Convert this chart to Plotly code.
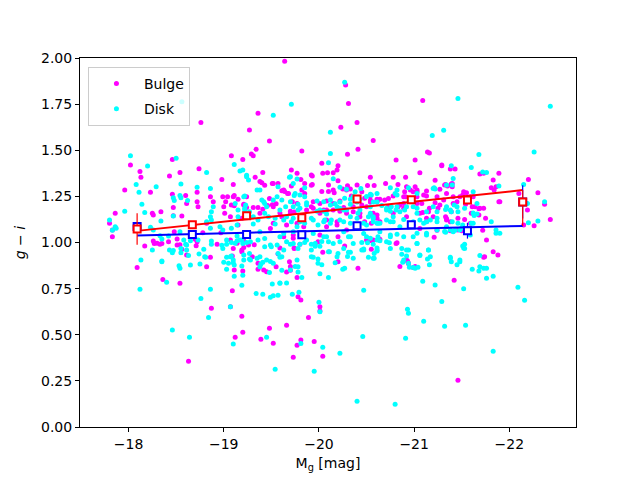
import plotly.graph_objects as go

bulge_mag = [-19.36,-18.76,-19.27,-19.48,-19.34,-19.29,-19.31,-19.08,-19.20,-18.46,-18.02,-18.74,-18.12,-18.54,-18.13,-18.43,-19.33,-19.41,-18.98,-19.52,-19.40,-19.10,-17.96,-18.23,-18.46,-18.60,-18.72,-18.86,-18.99,-19.04,-19.02,-19.10,-19.24,-19.48,-18.72,-18.89,-19.00,-19.11,-19.21,-19.31,-17.86,-18.25,-18.34,-18.47,-18.56,-17.80,-19.38,-19.52,-19.49,
    -18.73,-19.11,-19.15,-19.08,-19.24,-18.26,-18.47,-18.48,-18.26,-18.33,-18.17,-18.30,-18.42,-18.51,-18.54,-18.70,-18.71,-18.78,-18.97,-19.07,-19.14,-19.21,-19.10,-19.21,-17.83,-18.09,-18.56,-18.82,-19.01,-19.07,-19.19,-19.15,-18.61,-18.82,-18.65,-17.83,
    -18.27,-18.35,-18.51,-18.61,-18.72,-18.93,-18.86,-18.36,-18.54,-19.09,-19.19,-19.11,-19.20,-19.32,-19.30,-19.36,-19.36,-19.42,-19.45,-19.55,-19.57,-19.09,-18.87,-19.07,-19.19,-19.20,-19.12,-19.48,-19.39,-19.52,-18.63,
    -19.64,-20.28,-20.31,-20.40,-20.23,-21.09,-20.57,-20.41,-19.82,-20.30,-21.14,-21.16,-20.81,-21.01,-20.03,-20.20,-20.19,-19.71,-19.77,-21.29,-21.38,-21.43,-20.04,-20.09,-20.15,-19.93,-19.85,-20.54,-20.78,-20.91,-21.06,-21.22,-20.20,-19.71,-19.93,-20.10,-20.30,-20.40,-20.51,-20.58,-20.70,-20.83,-20.92,-21.01,-21.03,-21.13,-21.33,-21.40,-21.40,-21.52,-19.63,-19.67,-19.82,-19.85,-20.03,-20.10,-20.15,-20.29,-20.34,-20.45,-20.54,-20.61,-20.64,-20.69,-20.78,-20.91,-20.99,-21.03,-21.13,-21.24,-21.34,-21.41,-21.48,-21.59,-21.64,-19.72,-19.77,-19.94,-20.01,-20.08,-20.15,-20.22,-20.45,-20.50,-20.73,-20.83,-20.89,-20.97,-21.03,-21.09,-21.16,-21.27,-21.41,-21.60,-21.68,-19.94,-20.05,-20.15,-20.29,-20.36,-20.43,-20.61,-20.78,-20.92,-21.13,-21.20,-21.34,-21.46,-19.61,-19.70,-20.48,-20.55,-19.77,-19.84,-20.08,-20.19,-20.96,-21.06,-21.24,-19.63,-19.73,
    -19.38,-19.43,-19.51,-19.57,-19.61,-19.64,-19.68,-19.81,-19.92,-19.92,-20.16,-20.25,-20.33,-20.48,-20.54,-19.21,-19.36,-19.41,-19.46,-19.51,-19.55,-19.59,-19.70,-19.74,-19.87,-19.92,-20.01,-20.08,-20.22,-20.26,-20.36,-20.43,-19.19,-19.26,-19.74,-20.01,-19.99,-20.20,-20.50,-20.55,-20.41,-20.08,-20.19,-19.52,-19.66,-20.55,-20.61,-20.29,-19.73,
    -19.59,-19.74,-19.80,-19.96,-19.69,-19.70,-19.70,-19.66,-19.77,-19.78,-19.81,-20.01,-20.01,-19.89,-19.66,-19.81,-19.77,-19.95,-19.73,-20.04,-20.27,-20.20,-20.04,-20.81,-20.93,-20.94,-21.42,-21.46,-20.55,
    -21.29,-20.96,-21.03,-21.10,-20.90,-20.89,-21.32,-21.39,-21.51,-21.69,-21.73,-21.83,-21.86,-21.90,-21.45,-21.08,-21.22,-20.54,-20.61,-20.73,-20.85,-20.89,-21.06,-21.15,-21.25,-21.39,-21.69,-21.73,-20.57,-20.64,-20.99,-21.13,-21.38,-21.46,-20.57,-20.64,-20.82,-21.21,-21.59,-21.76,-21.74,-21.83,-21.88,-20.92,-20.94,-20.85,-20.99,-21.01,-21.34,
    -21.89,-22.20,-21.35,-21.27,-21.81,-21.84,-21.55,-21.62,-21.31,-21.54,-21.61,-21.68,-21.89,-22.10,-22.30,-22.37,-22.19,-21.33,-21.53,-21.75,-22.43,-21.38,-21.50,-22.15,-22.26,-21.72,-21.73]
bulge_gi = [1.70,1.65,1.61,1.55,1.505,1.48,1.47,1.47,1.45,1.45,1.42,1.40,1.385,1.38,1.353,1.36,1.353,1.38,1.342,1.32,1.324,1.315,1.284,1.272,1.261,1.255,1.272,1.248,1.248,1.248,1.221,1.248,1.248,1.239,1.221,1.221,1.194,1.199,1.207,1.190,1.158,1.158,1.167,1.145,1.143,1.104,1.158,1.194,1.076,
    1.194,1.255,1.234,1.203,1.19,1.149,1.190,1.058,1.008,0.99,0.981,0.996,1.004,1.019,0.988,1.017,0.983,1.053,1.053,1.013,0.996,1.010,0.968,0.973,1.031,0.865,0.963,0.869,1.158,1.140,1.131,1.095,1.212,1.104,1.031,1.068,
    0.995,0.995,0.986,0.932,1.004,0.990,0.920,0.800,0.779,0.927,0.950,0.851,0.846,0.988,0.923,0.887,0.855,0.851,0.842,0.869,0.938,0.739,0.643,0.652,0.600,0.513,0.486,0.535,0.475,0.454,0.356,
    1.983,1.853,1.754,1.651,1.624,1.770,1.553,1.505,1.496,1.478,1.490,1.485,1.447,1.447,1.429,1.416,1.393,1.393,1.375,1.416,1.398,1.398,1.375,1.378,1.378,1.360,1.320,1.353,1.353,1.353,1.378,1.337,1.335,1.306,1.315,1.311,1.308,1.311,1.309,1.309,1.320,1.315,1.302,1.302,1.284,1.279,1.315,1.320,1.302,1.275,1.284,1.266,1.284,1.266,1.276,1.276,1.284,1.284,1.252,1.275,1.253,1.234,1.234,1.230,1.252,1.248,1.275,1.248,1.252,1.248,1.266,1.248,1.248,1.248,1.194,1.221,1.212,1.221,1.212,1.225,1.212,1.225,1.203,1.194,1.194,1.194,1.212,1.221,1.212,1.163,1.185,1.203,1.212,1.158,1.149,1.185,1.176,1.176,1.158,1.167,1.140,1.149,1.158,1.140,1.131,1.140,1.122,1.131,1.140,1.158,1.113,1.104,1.104,1.085,1.085,1.095,1.104,1.076,1.067,1.031,1.040,
    1.33,1.31,1.32,1.32,1.28,1.276,1.266,1.342,1.31,1.366,1.27,1.29,1.29,1.24,1.22,1.203,1.19,1.18,1.20,1.205,1.21,1.16,1.17,1.165,1.176,1.194,1.158,1.176,1.17,1.19,1.194,1.158,0.959,0.986,0.968,1.04,1.004,1.031,1.013,0.963,0.86,1.122,1.113,1.104,1.095,1.149,1.131,1.068,1.023,
    0.97,0.97,0.99,0.99,0.896,0.87,0.85,0.84,0.81,0.706,0.689,0.652,0.629,0.594,0.551,0.472,0.443,0.464,0.378,0.383,0.981,0.896,0.947,0.995,0.90,0.887,0.795,0.253,1.01,
    1.42,1.285,1.275,1.257,1.275,1.248,1.311,1.317,1.257,1.371,1.375,1.339,1.302,1.221,1.221,1.212,1.216,1.23,1.221,1.239,1.203,1.185,1.158,1.167,1.185,1.167,1.185,1.185,1.158,1.113,1.095,1.113,1.113,1.068,1.013,1.017,0.999,1.028,1.104,1.013,0.923,0.95,0.932,0.905,0.887,0.87,0.865,0.87,1.13,
    1.375,1.342,1.306,1.288,1.297,1.284,1.270,1.248,1.230,1.207,1.194,1.183,1.221,1.266,1.270,1.207,1.176,1.140,1.125,1.131,1.125,1.064,1.064,1.095,1.091,1.067,0.92]

disk_mag = [-19.52,-18.02,-18.50,-18.20,-19.11,-19.20,-19.17,-18.82,-19.24,-18.08,-18.72,-18.29,-18.11,-18.54,-19.21,-19.38,-19.57,-18.14,-18.89,-19.22,-19.42,-19.45,-18.17,-18.47,-17.96,-17.80,-17.83,-17.86,-18.23,-18.96,-19.14,-19.31,-19.54,-19.38,-18.56,
    -18.55,-18.86,-18.48,-18.34,-17.87,-18.26,-18.33,-18.42,-18.54,-18.58,-18.43,-18.47,-18.55,-18.55,-18.13,-18.35,-18.53,-18.65,-18.75,-18.61,-18.61,-18.79,-18.80,-18.73,-18.87,-18.86,-18.82,-18.87,-18.87,-18.86,-18.99,-19.08,-19.03,-19.12,-19.19,-19.14,-18.99,-19.03,-19.11,-19.21,-19.07,-19.15,-19.22,-19.23,-19.12,-19.15,-19.24,-19.26,-18.47,-18.55,-18.62,-18.35,
    -18.25,-18.35,-18.12,-18.40,-18.54,-18.46,-18.60,-18.65,-18.63,-18.74,-18.81,-18.86,-18.76,-18.84,-18.87,-18.98,-19.03,-19.08,-19.14,-19.20,-19.24,-19.00,-19.05,-19.10,-19.10,-19.08,-19.03,-19.19,-19.20,-19.11,-19.19,-19.27,-19.27,-19.35,-19.41,-19.39,-19.49,-19.43,-19.50,-19.56,-19.48,-19.51,-19.59,-19.34,-19.41,-19.49,-19.52,-19.57,-19.07,-18.46,-18.64,-19.10,-19.45,-19.54,
    -19.59,-19.61,-19.59,-19.66,-19.72,-19.79,-19.75,-19.78,-19.82,-19.70,-19.80,-19.85,-19.92,-19.96,-20.01,-20.03,-19.94,-19.99,-20.03,-19.99,-20.11,-20.20,-20.17,-20.25,-20.27,-20.31,-20.33,-20.30,-20.10,-20.01,-20.45,-20.47,-20.51,-20.61,-20.58,-20.64,-20.74,-20.47,-20.00,-20.01,-20.87,-20.92,-20.94,-20.95,-20.88,-21.03,-21.01,-21.04,-21.06,-21.15,-21.14,-21.16,-21.09,-21.22,-21.29,-21.38,-21.45,-21.48,-21.52,-21.53,-21.61,-21.68,-21.52,-20.93,-20.94,-21.10,-21.32,-21.54,-20.91,-20.46,-19.81,-20.04,-20.22,-19.95,-20.40,-20.80,
    -21.53,-21.69,-21.73,-21.76,-21.83,-22.09,-22.16,-21.83,
    -20.27,-19.71,-21.46,-20.12,-21.31,-21.19,-20.12,-21.68,-20.10,-21.39,-21.60,-19.69,-19.77,-20.15,-19.85,-19.74,-20.22,-20.29,-20.38,-20.44,-20.75,-20.82,-20.94,-21.21,-21.41,-19.61,-19.65,-19.80,-19.85,-19.87,-19.80,-19.98,-20.05,-20.12,-20.19,-20.26,-20.43,-20.33,-20.54,-20.57,-20.71,-20.78,-20.82,-20.92,-21.03,-21.20,-21.24,-21.34,-21.38,-21.45,-21.53,-21.66,-19.59,-19.66,-19.73,-19.80,-19.94,-20.05,-20.12,-20.22,-20.33,-20.40,-20.50,-20.64,-20.75,-20.85,-20.99,-21.13,-21.24,-21.34,-21.50,-21.62,-19.63,-19.73,-19.94,-20.08,-20.26,-20.33,-20.47,-20.64,-20.75,-20.99,-21.13,-21.41,-21.59,
    -19.35,-19.40,-19.43,-19.52,-19.56,-19.70,-19.73,-19.75,-19.87,-19.78,-19.78,-19.70,-19.73,-19.98,-20.05,-20.12,-20.17,-20.01,-20.08,-20.22,-20.27,-20.33,-20.36,-20.40,-20.43,-20.50,-20.54,-20.57,-20.61,-20.22,-20.29,-19.22,-19.27,-19.31,-19.36,-19.43,-19.47,-19.54,-19.63,-19.71,-19.77,-19.85,-19.92,-19.99,-20.06,-20.13,-20.26,-20.33,-20.41,-20.47,-20.52,-20.57,-20.62,-19.17,-19.28,-19.36,-19.43,-19.49,-19.59,-19.66,-19.63,-19.73,-19.78,-19.87,-19.96,-19.92,-20.05,-20.10,-20.15,-20.22,-20.26,-20.31,-20.36,-20.45,-20.50,-20.57,-20.61,-19.21,-19.28,-19.38,-19.45,-19.52,-19.57,-19.61,-19.77,-19.78,-19.92,-20.10,-20.19,-20.36,-20.47,-20.52,-20.58,-20.61,-19.70,-19.38,
    -21.76,-20.80,-20.82,-21.03,-21.20,-21.22,-21.34,-21.40,-21.62,-20.55,-20.61,-20.66,-20.71,-20.75,-20.76,-20.81,-20.85,-20.90,-20.99,-21.03,-21.13,-21.17,-21.24,-21.39,-21.06,-21.10,-20.54,-20.57,-20.61,-20.71,-20.78,-20.89,-21.46,-21.62,-21.66,-21.46,-21.51,-21.81,-21.86,-21.90,-21.48,-21.55,-21.03,-21.13,-21.24,-20.75,-20.82,-20.89,-20.54,-20.62,-21.38,-21.32,-20.61,-20.57,-20.71,-20.75,-20.87,-20.92,-21.03,-21.15,-21.17,-21.06,-21.38,-21.39,-21.48,-21.51,-20.89,-20.94,-20.99,-21.69,-21.76,-21.86,
    -22.43,-22.26,-21.72,-21.89,-22.15,-22.19,-22.37,-21.42,-21.33,-21.63,-21.40,-21.60,-22.20,-22.30,-21.33,-21.43]
disk_gi = [1.69,1.47,1.456,1.414,1.423,1.393,1.387,1.38,1.364,1.315,1.299,1.302,1.272,1.255,1.248,1.284,1.302,1.207,1.194,1.185,1.221,1.194,1.163,1.143,1.169,1.122,1.067,1.085,1.082,1.085,1.095,1.10,1.10,1.058,1.763,
    1.317,1.293,1.227,1.116,1.077,1.068,1.037,1.035,1.058,1.013,0.959,0.956,0.968,0.945,0.905,0.900,0.874,0.878,0.883,0.96,0.987,0.963,0.923,1.013,1.008,1.077,1.113,1.122,1.167,1.14,1.068,1.077,1.013,0.996,1.013,1.035,0.968,0.92,0.878,0.905,0.923,1.176,1.252,1.203,1.212,1.14,1.357,1.339,1.243,1.243,1.227,1.019,
    0.959,0.896,0.746,0.784,0.860,0.945,0.990,1.01,0.930,0.938,0.920,0.746,0.697,0.594,0.99,0.985,0.99,1.0,1.01,0.995,1.0,0.893,0.888,0.89,0.905,0.927,0.855,0.873,0.822,0.817,0.768,0.94,0.91,0.914,0.893,0.883,0.897,0.977,0.977,0.986,0.837,0.775,0.779,0.724,0.719,0.703,0.712,0.714,0.652,0.526,0.486,0.450,0.486,0.313,
    0.92,0.85,0.78,0.78,0.72,0.73,0.87,0.84,0.81,0.99,0.99,1.0,0.99,0.98,0.98,1.005,0.92,0.91,0.88,0.888,0.95,0.94,0.89,0.855,0.86,0.947,0.947,0.924,0.81,0.83,0.96,0.965,0.999,0.954,0.914,1.01,0.999,0.741,0.676,0.625,0.936,0.927,0.96,0.866,0.893,0.995,0.86,0.866,0.93,0.96,0.91,0.88,0.79,0.77,0.68,0.92,0.88,0.895,0.97,0.99,0.855,0.845,0.75,0.638,0.617,0.573,0.546,0.551,0.481,0.491,0.453,0.432,0.400,0.302,0.139,0.123,
    0.968,0.93,0.86,0.806,0.817,0.757,0.687,0.410,
    1.868,1.750,1.781,1.597,1.608,1.580,1.483,1.477,1.432,1.416,1.407,1.353,1.344,1.346,1.297,1.255,1.299,1.288,1.275,1.293,1.297,1.284,1.297,1.297,1.347,1.230,1.194,1.257,1.248,1.203,1.185,1.17,1.17,1.203,1.194,1.176,1.176,1.207,1.194,1.140,1.176,1.14,1.194,1.194,1.185,1.194,1.167,1.194,1.176,1.194,1.185,1.212,1.176,1.140,1.131,1.113,1.122,1.113,1.104,1.122,1.104,1.131,1.095,1.104,1.113,1.085,1.113,1.113,1.131,1.085,1.080,1.104,1.049,1.058,1.049,1.031,1.058,1.031,1.049,1.058,1.040,1.031,1.040,1.058,1.040,
    1.284,1.23,1.212,1.23,1.248,1.357,1.32,1.266,1.216,1.207,1.176,1.221,1.194,1.225,1.221,1.23,1.21,1.176,1.154,1.22,1.24,1.235,1.25,1.22,1.235,1.25,1.262,1.22,1.266,1.185,1.176,1.176,1.167,1.14,1.122,1.158,1.14,1.131,1.122,1.113,1.085,1.104,1.131,1.095,1.122,1.122,1.113,1.140,1.158,1.104,1.140,1.113,1.104,1.013,1.004,1.013,1.022,0.986,1.031,1.004,0.959,0.995,0.968,1.013,0.995,0.959,1.031,1.004,0.995,1.004,0.968,1.031,0.995,1.0,1.031,0.99,1.013,0.932,0.905,0.923,0.905,0.887,0.941,0.923,0.905,0.869,0.923,0.95,0.923,0.914,0.959,0.92,0.94,0.97,0.851,0.869,
    1.38,1.266,1.257,1.266,1.293,1.29,1.311,1.311,1.275,1.257,1.22,1.20,1.185,1.17,1.194,1.176,1.167,1.176,1.194,1.158,1.167,1.122,1.113,1.167,1.122,1.104,1.158,1.13,1.104,1.122,1.113,1.125,1.167,1.16,1.155,1.104,1.095,1.113,1.05,1.05,1.068,1.068,1.05,1.05,1.068,1.031,1.045,1.031,1.023,1.031,1.068,1.06,0.959,0.914,1.004,0.968,0.968,0.959,0.995,0.959,0.923,0.932,0.914,0.896,0.905,0.981,0.905,0.887,0.865,0.869,0.86,1.068,
    1.739,1.490,1.382,1.306,1.315,1.212,1.221,1.203,1.179,1.147,1.113,1.104,1.107,1.116,1.055,1.067]

bin_mag = [-18.09, -18.67, -19.24, -19.82, -20.40, -20.97, -21.56, -22.14]
bulge_mean = [1.073, 1.096, 1.145, 1.134, 1.236, 1.232, 1.230, 1.220]
bulge_err_plus = [0.085, 0.015, 0.015, 0.015, 0.015, 0.015, 0.015, 0.065]
bulge_err_minus = [0.085, 0.015, 0.015, 0.015, 0.015, 0.015, 0.015, 0.13]
disk_mean = [1.087, 1.044, 1.044, 1.042, 1.091, 1.096, 1.064, 1.220]
disk_err = [0.015, 0.015, 0.015, 0.015, 0.015, 0.015, 0.043, 0.09]

fit_mag = [-18.09, -22.14]
bulge_fit = [1.063, 1.284]
disk_fit = [1.038, 1.090]

fig = go.Figure()
fig.add_trace(go.Scatter(x=bulge_mag, y=bulge_gi, mode="markers", name="Bulge", legendgroup="b",
                         marker=dict(color="#ff00ff", size=5, line=dict(width=0))))
fig.add_trace(go.Scatter(x=disk_mag, y=disk_gi, mode="markers", name="Disk", legendgroup="d",
                         marker=dict(color="#00ffff", size=5, line=dict(width=0))))
fig.add_trace(go.Scatter(x=fit_mag, y=disk_fit, mode="lines", showlegend=False,
                         line=dict(color="blue", width=2)))
fig.add_trace(go.Scatter(x=fit_mag, y=bulge_fit, mode="lines", showlegend=False,
                         line=dict(color="red", width=2)))
fig.add_trace(go.Scatter(x=bin_mag, y=disk_mean, mode="markers", showlegend=False,
                         marker=dict(symbol="square", size=7, color="white", line=dict(color="blue", width=2)),
                         error_y=dict(type="data", array=disk_err, color="blue", thickness=1.2, width=0)))
fig.add_trace(go.Scatter(x=bin_mag, y=bulge_mean, mode="markers", showlegend=False,
                         marker=dict(symbol="square", size=7, color="white", line=dict(color="red", width=2)),
                         error_y=dict(type="data", symmetric=False, array=bulge_err_plus,
                                      arrayminus=bulge_err_minus, color="red", thickness=1.2, width=0)))

axis_common = dict(showline=True, linecolor="black", linewidth=1, mirror=True,
                   ticks="outside", ticklen=4, tickcolor="black", showgrid=False, zeroline=False,
                   tickfont=dict(size=14, color="black"))
fig.update_xaxes(range=[-17.49, -22.70], tickmode="linear", tick0=-18, dtick=1,
                 title=dict(text="M<sub>g</sub> [mag]", font=dict(size=14, color="black"), standoff=7),
                 **axis_common)
fig.update_yaxes(range=[0, 2], tickmode="linear", tick0=0, dtick=0.25, tickformat=".2f",
                 title=dict(text="<i>g</i> − <i>i</i>", font=dict(size=14, color="black"), standoff=12),
                 **axis_common)
fig.update_layout(
    width=640, height=480,
    margin=dict(l=72, r=72, t=50, b=61),
    paper_bgcolor="white", plot_bgcolor="white",
    font=dict(family="DejaVu Sans", color="black"),
    legend=dict(x=0.016, y=0.976, xanchor="left", yanchor="top",
                bgcolor="rgba(255,255,255,0.8)", bordercolor="#cccccc", borderwidth=1,
                font=dict(size=14, color="black"), itemwidth=45, tracegroupgap=4),
)
fig.write_html("out.html")
